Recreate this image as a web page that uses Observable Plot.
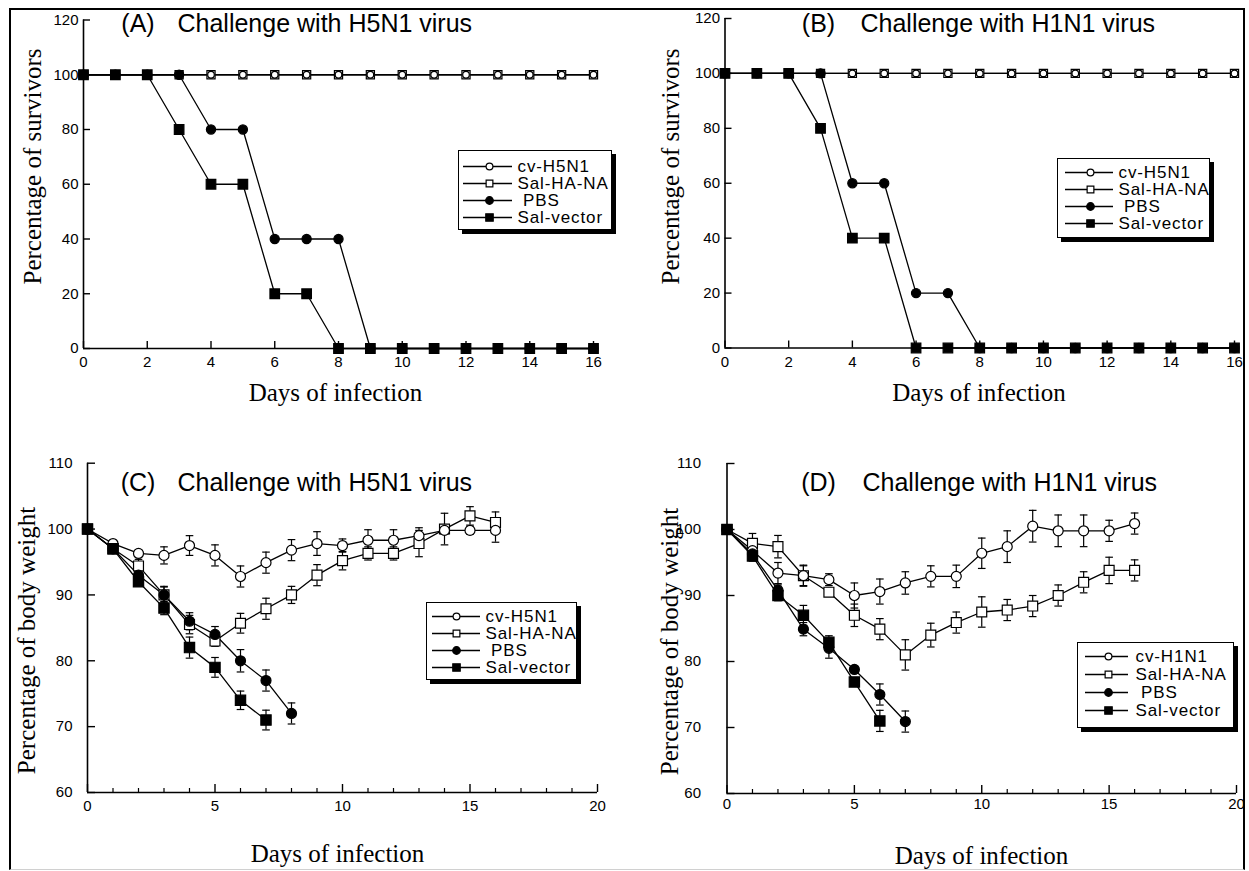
<!DOCTYPE html>
<html><head><meta charset="utf-8">
<script src="https://cdn.jsdelivr.net/npm/d3@7"></script>
<script src="https://cdn.jsdelivr.net/npm/@observablehq/plot@0.6"></script>
<style>
html,body{margin:0;padding:0;background:#fff;}
#page{position:relative;width:1249px;height:871px;overflow:hidden;background:#fff;}
.panel{position:absolute;}
.legend{position:absolute;box-sizing:border-box;border:1.5px solid #000;box-shadow:4px 4px 0 #000;background:#fff;}
#frame{position:absolute;left:9px;top:8px;width:1236px;height:862px;box-sizing:border-box;border:2px solid #000;border-bottom:1px solid #d0d0d0;}
</style></head><body><div id="page"><div id="frame"></div></div>
<script>
// ---------- data ----------
const days = [0,1,2,3,4,5,6,7,8,9,10,11,12,13,14,15,16];
const legendH5 = ["cv-H5N1","Sal-HA-NA","\u00a0PBS","Sal-vector"];
const legendH1 = ["cv-H1N1","Sal-HA-NA","\u00a0PBS","Sal-vector"];

// Panel A: survival, H5N1 challenge
const survA_cv  = [100,100,100,100,100,100,100,100,100,100,100,100,100,100,100,100,100];
const survA_sal = [100,100,100,100,100,100,100,100,100,100,100,100,100,100,100,100,100];
const survA_pbs = [100,100,100,100,80,80,40,40,40,0,0,0,0,0,0,0,0];
const survA_vec = [100,100,100,80,60,60,20,20,0,0,0,0,0,0,0,0,0];

// Panel B: survival, H1N1 challenge
const survB_cv  = [100,100,100,100,100,100,100,100,100,100,100,100,100,100,100,100,100];
const survB_sal = [100,100,100,100,100,100,100,100,100,100,100,100,100,100,100,100,100];
const survB_pbs = [100,100,100,100,60,60,20,20,0,0,0,0,0,0,0,0,0];
const survB_vec = [100,100,100,80,40,40,0,0,0,0,0,0,0,0,0,0,0];

// Panel C: body weight, H5N1 challenge (mean, error)
const wC_cv     = [100,97.8,96.3,96.0,97.5,96.0,92.8,94.9,96.8,97.8,97.5,98.3,98.3,99.0,99.8,99.8,99.8];
const wC_cv_e   = [0,0.4,0.5,1.3,1.5,1.6,1.6,1.6,1.6,1.8,1.0,1.6,1.6,1.2,0.6,0.6,1.8];
const wC_sal    = [100,97.0,94.4,90.0,85.5,83.0,85.7,87.9,90.0,93.0,95.2,96.3,96.3,97.8,100.0,102.0,101.0];
const wC_sal_e  = [0,0.5,1.0,1.2,1.4,0.8,1.5,1.6,1.3,1.6,1.4,1.0,1.0,2.0,2.4,1.4,1.6];
const wC_pbs    = [100,97.0,93.0,90.0,86.0,84.0,80.0,77.0,72.0];
const wC_pbs_e  = [0,0.5,0.8,1.3,1.3,1.2,1.7,1.6,1.6];
const wC_vec    = [100,97.0,92.0,88.0,82.0,79.0,74.0,71.0];
const wC_vec_e  = [0,0.5,0.6,1.0,1.6,1.5,1.4,1.5];

// Panel D: body weight, H1N1 challenge (mean, error)
const wD_cv     = [100,96.8,93.4,93.0,92.4,90.0,90.6,91.9,92.9,92.9,96.4,97.4,100.5,99.8,99.8,99.8,100.9];
const wD_cv_e   = [0,1.0,1.6,1.6,0.9,1.9,1.9,1.7,1.6,1.7,2.3,2.4,2.4,2.4,2.4,1.6,1.6];
const wD_sal    = [100,97.9,97.4,93.0,90.5,87.0,84.9,81.0,84.0,85.9,87.5,87.8,88.4,90.0,92.0,93.8,93.8];
const wD_sal_e  = [0,1.5,1.7,1.5,0.6,1.7,1.6,2.3,1.8,1.6,2.3,1.6,1.6,1.6,1.6,2.0,1.6];
const wD_pbs    = [100,96.3,90.8,84.9,82.0,78.8,75.0,70.9];
const wD_pbs_e  = [0,0.8,0.8,1.0,1.5,0.5,1.6,1.6];
const wD_vec    = [100,96.0,90.0,87.0,82.9,76.9,71.0];
const wD_vec_e  = [0,0.8,0.8,1.5,1.0,0.5,1.6];

// ticks
const survYTicks = [0,20,40,60,80,100,120];
const survXTicks = [0,2,4,6,8,10,12,14,16];
const wYTicks = [60,70,80,90,100,110];
const wXMajor = [0,5,10,15,20];
const wXMinor = [1,2,3,4,6,7,8,9,11,12,13,14,16,17,18,19];

// ---------- helpers ----------
const page = document.getElementById("page");
const toRows = (vals, errs) => vals.map((v, i) => ({day: days[i], v, e: errs ? errs[i] : 0}));
const capSym = {draw(ctx, size) { const w = Math.sqrt(size); ctx.moveTo(-w / 2, 0); ctx.lineTo(w / 2, 0); }};

function place(node, left, top, cls) {
  const div = document.createElement("div");
  div.className = cls || "panel";
  div.style.left = left + "px";
  div.style.top = top + "px";
  div.appendChild(node);
  page.appendChild(div);
  return div;
}

function panel(c) {
  const fw = c.width - c.ml - c.mr, fh = c.height - c.mt - c.mb;
  const marks = [];
  for (const s of c.series) marks.push(Plot.line(s.rows, {x: "day", y: "v", stroke: "#000", strokeWidth: 1.3}));
  for (const s of c.series) {
    const er = s.rows.filter(d => d.e > 0);
    if (!er.length) continue;
    marks.push(Plot.ruleX(er, {x: "day", y1: d => d.v - d.e, y2: d => d.v + d.e, stroke: "#000", strokeWidth: 1.2}));
    marks.push(Plot.dot(er, {x: "day", y: d => d.v - d.e, symbol: capSym, r: 4.3, stroke: "#000", strokeWidth: 1.2}));
    marks.push(Plot.dot(er, {x: "day", y: d => d.v + d.e, symbol: capSym, r: 4.3, stroke: "#000", strokeWidth: 1.2}));
  }
  for (const s of c.series) marks.push(Plot.dot(s.rows, {x: "day", y: "v", symbol: s.symbol, r: s.r, fill: s.fill, stroke: "#000", strokeWidth: 1.2}));
  marks.push(Plot.ruleX([c.xDomain[0]], {stroke: "#000", strokeWidth: 1.6}));
  marks.push(Plot.ruleY([c.yDomain[0]], {stroke: "#000", strokeWidth: 1.6}));
  marks.push(Plot.tickY(c.yTicks, {y: d => d, insetRight: fw - c.yTickLen, stroke: "#000", strokeWidth: 1.4}));
  marks.push(Plot.tickX(c.xTicks, {x: d => d, insetTop: fh - c.xTickLen, stroke: "#000", strokeWidth: 1.4}));
  if (c.xMinor) marks.push(Plot.tickX(c.xMinor, {x: d => d, insetTop: fh - 4, stroke: "#000", strokeWidth: 1.2}));
  marks.push(Plot.axisY(c.yTicks, {tickSize: 0, tickPadding: c.yPad, label: null}));
  marks.push(Plot.axisX(c.xTicks, {tickSize: 0, tickPadding: c.xPad, label: null}));
  marks.push(Plot.text([c.tag], {text: d => d, frameAnchor: "top-left", dx: c.tagX - c.ml, dy: c.titleY - c.mt,
    textAnchor: "middle", lineAnchor: "middle", fontSize: 25, fontFamily: "Liberation Sans, Arial, sans-serif"}));
  marks.push(Plot.text([c.title], {text: d => d, frameAnchor: "top-left", dx: c.titleX - c.ml, dy: c.titleY - c.mt,
    textAnchor: "start", lineAnchor: "middle", fontSize: 25, fontFamily: "Liberation Sans, Arial, sans-serif"}));
  marks.push(Plot.text([c.ylabel], {text: d => d, frameAnchor: "left", rotate: -90, dx: c.ylx - c.ml, dy: c.yly - (c.mt + fh / 2),
    textAnchor: "middle", lineAnchor: "middle", fontSize: 25, fontFamily: "Liberation Serif, Times New Roman, serif"}));
  marks.push(Plot.text([c.xlabel], {text: d => d, frameAnchor: "bottom", dx: c.xlx - (c.ml + fw / 2), dy: c.xly - (c.mt + fh),
    textAnchor: "middle", lineAnchor: "middle", fontSize: 25, fontFamily: "Liberation Serif, Times New Roman, serif"}));

  const svg = Plot.plot({
    width: c.width, height: c.height,
    marginLeft: c.ml, marginRight: c.mr, marginTop: c.mt, marginBottom: c.mb,
    x: {domain: c.xDomain}, y: {domain: c.yDomain},
    style: {background: "transparent", color: "#000", fontFamily: "Liberation Sans, Arial, sans-serif", fontSize: "15px", overflow: "visible"},
    marks
  });
  place(svg, c.left, c.top);
}

function legend(c) {
  const w = c.w - 3, h = c.h - 3;
  const marks = [Plot.ruleY(c.labels, {y: d => d, insetLeft: c.lx1, insetRight: w - c.lx2, stroke: "#000", strokeWidth: 1.3})];
  c.styles.forEach((st, i) => {
    marks.push(Plot.dot([c.labels[i]], {y: d => d, frameAnchor: "left", dx: c.mx, symbol: st.symbol, r: st.r, fill: st.fill, stroke: "#000", strokeWidth: 1.2}));
  });
  marks.push(Plot.text(c.labels, {y: d => d, text: d => d, frameAnchor: "left", dx: c.tx, textAnchor: "start", fontSize: 17}));
  const svg = Plot.plot({
    width: w, height: h, margin: 0,
    y: {type: "point", domain: c.labels, range: [c.rowTop, c.rowBottom], padding: 0, axis: null},
    style: {background: "transparent", color: "#000", fontFamily: "Liberation Sans, Arial, sans-serif", fontSize: "17px", letterSpacing: "0.9px", overflow: "visible"},
    marks
  });
  const div = place(svg, c.left, c.top, "legend");
  div.style.width = c.w + "px";
  div.style.height = c.h + "px";
}

const survStyle = {
  cv:  {symbol: "circle", r: 3.3, fill: "#fff"},
  sal: {symbol: "square", r: 4.6, fill: "#fff"},
  pbs: {symbol: "circle", r: 4.6, fill: "#000"},
  vec: {symbol: "square", r: 5.4, fill: "#000"}
};
const wStyle = {
  cv:  {symbol: "circle", r: 5, fill: "#fff"},
  sal: {symbol: "square", r: 5.6, fill: "#fff"},
  pbs: {symbol: "circle", r: 5, fill: "#000"},
  vec: {symbol: "square", r: 5.8, fill: "#000"}
};
const legStyles = [
  {symbol: "circle", r: 3.4, fill: "#fff"},
  {symbol: "square", r: 3.8, fill: "#fff"},
  {symbol: "circle", r: 3.8, fill: "#000"},
  {symbol: "square", r: 4.2, fill: "#000"}
];
const ser = (rows, st) => ({rows, ...st});

// ---------- Panel A ----------
panel({
  left: 0, top: 0, width: 625, height: 420, ml: 83, mr: 32, mt: 19.5, mb: 72,
  xDomain: [0, 16], yDomain: [0, 120], xTicks: survXTicks, yTicks: survYTicks,
  xTickLen: 7, yTickLen: 7, yPad: 5, xPad: 8,
  series: [ser(toRows(survA_sal), survStyle.sal), ser(toRows(survA_cv), survStyle.cv),
           ser(toRows(survA_pbs), survStyle.pbs), ser(toRows(survA_vec), survStyle.vec)],
  tag: "(A)", title: "Challenge with H5N1 virus", tagX: 137.5, titleX: 177, titleY: 23,
  ylabel: "Percentage of survivors", ylx: 32, yly: 166,
  xlabel: "Days of infection", xlx: 335, xly: 392
});
legend({left: 458, top: 150, w: 154, h: 80, labels: legendH5, styles: legStyles, rowTop: 14, rowBottom: 66.5, lx1: 4, lx2: 53, mx: 30, tx: 58});

// ---------- Panel B ----------
panel({
  left: 625, top: 0, width: 624, height: 420, ml: 99.5, mr: 15, mt: 18, mb: 72.5,
  xDomain: [0, 16], yDomain: [0, 120], xTicks: survXTicks, yTicks: survYTicks,
  xTickLen: 7, yTickLen: 7, yPad: 5, xPad: 8,
  series: [ser(toRows(survB_sal), survStyle.sal), ser(toRows(survB_cv), survStyle.cv),
           ser(toRows(survB_pbs), survStyle.pbs), ser(toRows(survB_vec), survStyle.vec)],
  tag: "(B)", title: "Challenge with H1N1 virus", tagX: 193, titleX: 235, titleY: 23,
  ylabel: "Percentage of survivors", ylx: 45, yly: 166,
  xlabel: "Days of infection", xlx: 353.5, xly: 392
});
legend({left: 1057, top: 158, w: 153, h: 80, labels: legendH5, styles: legStyles, rowTop: 12, rowBottom: 64.5, lx1: 7, lx2: 55, mx: 32, tx: 60});

// ---------- Panel C ----------
panel({
  left: 0, top: 440, width: 625, height: 431, ml: 87, mr: 28, mt: 22.7, mb: 79,
  xDomain: [0, 20], yDomain: [60, 110], xTicks: wXMajor, yTicks: wYTicks, xMinor: wXMinor,
  xTickLen: 8, yTickLen: 8, yPad: 15, xPad: 7.5,
  series: [ser(toRows(wC_sal, wC_sal_e), wStyle.sal), ser(toRows(wC_cv, wC_cv_e), wStyle.cv),
           ser(toRows(wC_pbs, wC_pbs_e), wStyle.pbs), ser(toRows(wC_vec, wC_vec_e), wStyle.vec)],
  tag: "(C)", title: "Challenge with H5N1 virus", tagX: 137.5, titleX: 177, titleY: 42,
  ylabel: "Percentage of body weight", ylx: 26, yly: 200,
  xlabel: "Days of infection", xlx: 337, xly: 413
});
legend({left: 426, top: 602, w: 151, h: 78, labels: legendH5, styles: legStyles, rowTop: 12, rowBottom: 65, lx1: 5, lx2: 53, mx: 29, tx: 58});

// ---------- Panel D ----------
panel({
  left: 625, top: 440, width: 624, height: 431, ml: 101.5, mr: 13, mt: 23, mb: 78,
  xDomain: [0, 20], yDomain: [60, 110], xTicks: wXMajor, yTicks: wYTicks, xMinor: wXMinor,
  xTickLen: 8, yTickLen: 8, yPad: 26, xPad: 5,
  series: [ser(toRows(wD_sal, wD_sal_e), wStyle.sal), ser(toRows(wD_cv, wD_cv_e), wStyle.cv),
           ser(toRows(wD_pbs, wD_pbs_e), wStyle.pbs), ser(toRows(wD_vec, wD_vec_e), wStyle.vec)],
  tag: "(D)", title: "Challenge with H1N1 virus", tagX: 193, titleX: 237, titleY: 42,
  ylabel: "Percentage of body weight", ylx: 44, yly: 201,
  xlabel: "Days of infection", xlx: 356, xly: 415
});
legend({left: 1077, top: 642, w: 157, h: 86, labels: legendH1, styles: legStyles, rowTop: 13, rowBottom: 67, lx1: 7, lx2: 50, mx: 30, tx: 57});
</script></body></html>
